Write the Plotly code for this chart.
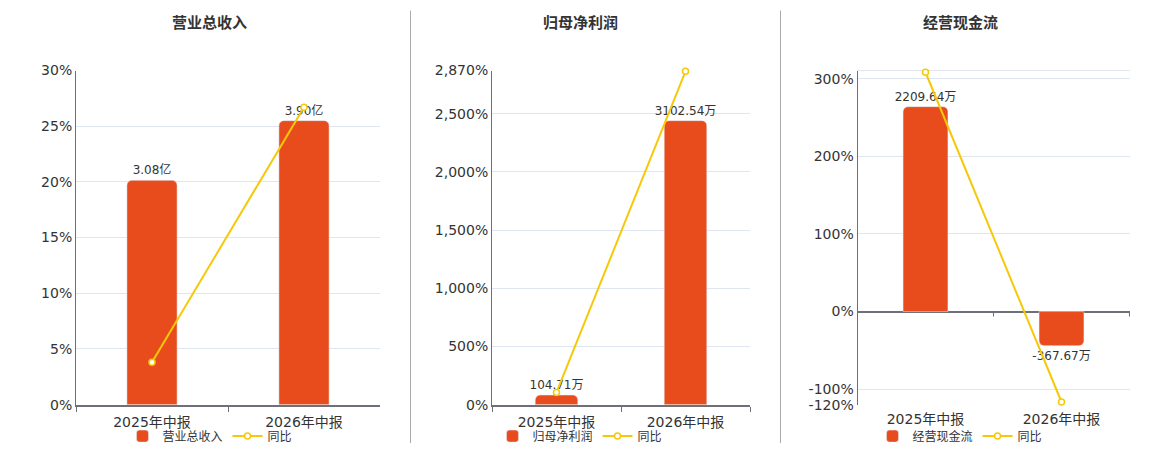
import plotly.graph_objects as go

# 数据
periods = ['2025年中报', '2026年中报']

titles = ['营业总收入', '归母净利润', '经营现金流']
units = ['亿', '万', '万']

revenue = [3.08, 3.90]            # 亿
revenue_yoy = [3.8, 26.7]         # %
profit = [104.71, 3102.54]        # 万
profit_yoy = [105, 2863]          # %
cashflow = [2209.64, -367.67]     # 万
cashflow_yoy = [308.5, -116.6]    # %

pct_ticks_1 = [0, 5, 10, 15, 20, 25, 30]
pct_ticks_2 = [0, 500, 1000, 1500, 2000, 2500, 2870]
pct_ticks_3 = [-120, -100, 0, 100, 200, 300]

pct_range_1 = [0, 30]
pct_range_2 = [0, 2870]
pct_range_3 = [-120, 310.7]

BAR = '#e84c1d'
LINE = '#f5c90a'
AXIS = '#6e7079'
GRID = '#e0e6f1'
TEXT = '#333333'
FONT = 'DejaVu Sans, Noto Sans CJK SC, sans-serif'

W, H = 1160, 450


# 页面坐标（像素）换算成 paper 坐标，补偿页面里的偏移
def px(x):
    return (x - 8) / W


def py(y):
    return 1 - ((y - 15.4) / 0.9656) / H


panels = [
    (revenue, revenue_yoy, pct_ticks_1, pct_range_1),
    (profit, profit_yoy, pct_ticks_2, pct_range_2),
    (cashflow, cashflow_yoy, pct_ticks_3, pct_range_3),
]
x_domains = [[px(76), px(380)], [px(492), px(750)], [px(857.5), px(1130)]]
y_domain = [py(404.5), py(70)]
centers = [210, 580, 960]

fig = go.Figure()
layout = {}
shapes = []
annotations = []

for i, (vals, yoy, ticks, prange) in enumerate(panels):
    n = i + 1
    xa = 'x' if n == 1 else f'x{n}'
    yb = 'y' if n == 1 else f'y{2 * n - 1}'      # 柱状图坐标轴（隐藏）
    yp = f'y{2 * n}'                             # 百分比坐标轴
    leg = 'legend' if n == 1 else f'legend{n}'

    fig.add_trace(go.Bar(
        x=periods, y=vals, name=titles[i], xaxis=xa, yaxis=yb, legend=leg,
        marker=dict(color=BAR, cornerradius=5), width=0.33,
        text=[f'{v:.2f}{units[i]}' for v in vals], textposition='outside',
        textfont=dict(size=12, color=TEXT, family=FONT), cliponaxis=False,
        constraintext='none',
    ))
    fig.add_trace(go.Scatter(
        x=periods, y=yoy, name='同比', xaxis=xa, yaxis=yp, legend=leg,
        mode='lines+markers', line=dict(color=LINE, width=2),
        marker=dict(symbol='circle', size=6, color='white',
                    line=dict(color=LINE, width=1.5)),
        cliponaxis=False,
    ))

    # 柱状图坐标轴范围：与百分比轴零点对齐
    top = max(vals) / 0.85
    bottom = top * prange[0] / prange[1]

    ykey_b = 'yaxis' if n == 1 else f'yaxis{2 * n - 1}'
    ykey_p = f'yaxis{2 * n}'
    xkey = 'xaxis' if n == 1 else f'xaxis{n}'

    layout[ykey_b] = dict(domain=y_domain, range=[bottom, top], visible=False,
                          anchor=xa, fixedrange=True)
    layout[ykey_p] = dict(
        domain=y_domain, range=prange, overlaying=yb, anchor=xa, side='left',
        tickvals=ticks, ticktext=[f'{v:,}%' for v in ticks],
        showgrid=True, gridcolor=GRID, gridwidth=1,
        showline=True, linecolor=AXIS, linewidth=1,
        zeroline=(n == 3), zerolinecolor=AXIS, zerolinewidth=2,
        ticks='', tickfont=dict(size=14, color=TEXT, family=FONT),
        fixedrange=True,
    )
    xaxis = dict(domain=x_domains[i], anchor=yb, type='category',
                 tickfont=dict(size=14, color=TEXT, family=FONT),
                 ticklabelstandoff=4, showgrid=False, fixedrange=True)
    if n < 3:
        xaxis.update(showline=True, linecolor=AXIS, linewidth=2,
                     ticks='outside', tickson='boundaries', ticklen=5,
                     tickcolor=AXIS, tickwidth=1)
    else:
        xaxis.update(showline=False, ticks='')
        for xb in [0.5, 1.5]:
            shapes.append(dict(type='line', xref=xa, yref=yb,
                               x0=xb, x1=xb, ysizemode='pixel', yanchor=0,
                               y0=0, y1=-5, line=dict(color=AXIS, width=1)))
        shapes.append(dict(type='line', xref=f'{xa} domain', yref=f'{yp} domain',
                           x0=0, x1=1, y0=1, y1=1,
                           line=dict(color=GRID, width=1), layer='below'))
    layout[xkey] = xaxis

    layout[leg] = dict(orientation='h', x=px(centers[i]), xanchor='center',
                       y=py(436), yanchor='middle', bgcolor='rgba(0,0,0,0)',
                       font=dict(size=12, color=TEXT, family=FONT),
                       itemwidth=30, tracegroupgap=0)

    annotations.append(dict(text=f'<b>{titles[i]}</b>', xref='paper', yref='paper',
                            x=px(centers[i]), y=py(22), xanchor='center',
                            yanchor='middle', showarrow=False,
                            font=dict(size=15, color=TEXT, family=FONT)))

# 分隔线
for sx in [410.5, 780.5]:
    shapes.append(dict(type='line', xref='paper', yref='paper',
                       x0=px(sx), x1=px(sx), y0=py(10), y1=py(443),
                       line=dict(color='#aaaaaa', width=1)))

fig.update_layout(
    width=W, height=H, margin=dict(l=0, r=0, t=0, b=0),
    paper_bgcolor='white', plot_bgcolor='white',
    font=dict(family=FONT, color=TEXT),
    hovermode=False, bargap=0.67,
    shapes=shapes, annotations=annotations,
    **layout,
)

fig.write_html('out.html')
